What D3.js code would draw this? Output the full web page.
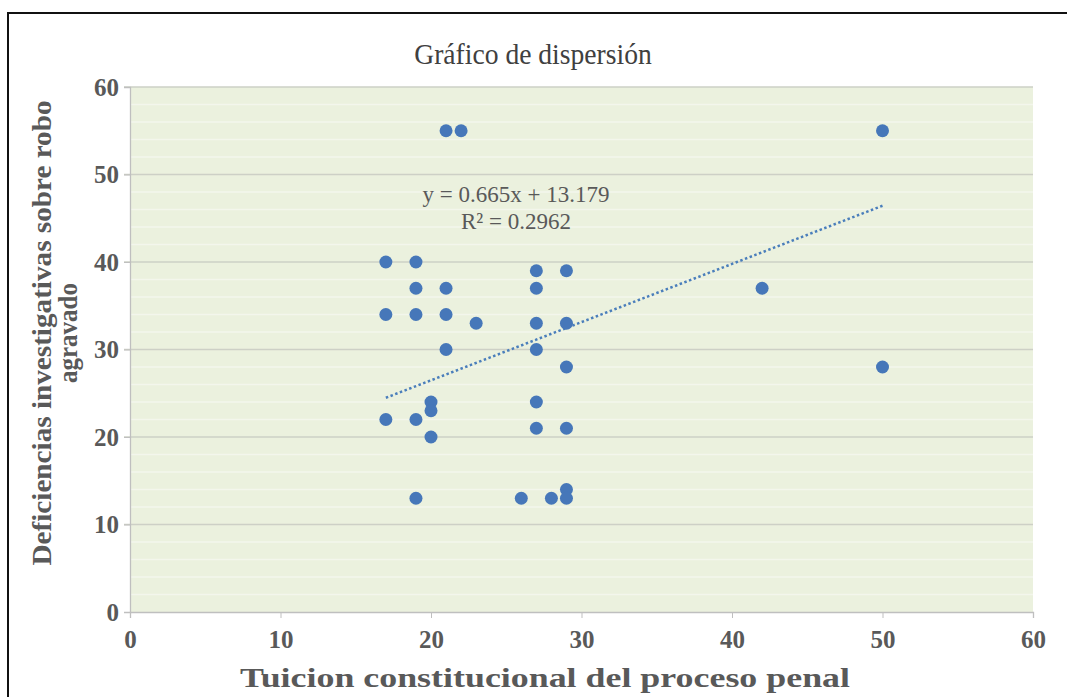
<!DOCTYPE html>
<html>
<head>
<meta charset="utf-8">
<script src="https://cdn.jsdelivr.net/npm/d3@7"></script>
<style>
  body { margin: 0; background: #fff; }
  text { font-family: "Liberation Serif", "DejaVu Serif", serif; }
</style>
</head>
<body>
<script>
// data
var xValues = [17, 17, 17, 19, 19, 19, 19, 19, 20, 20, 20, 21, 21, 21, 21, 22, 23, 26,
               27, 27, 27, 27, 27, 27, 28, 29, 29, 29, 29, 29, 29, 42, 50, 50];
var yValues = [40, 34, 22, 40, 37, 34, 22, 13, 24, 23, 20, 37, 34, 30, 55, 55, 33, 13,
               39, 37, 33, 30, 24, 21, 13, 39, 33, 28, 21, 14, 13, 37, 55, 28];
var xTicks = [0, 10, 20, 30, 40, 50, 60];
var yTicks = [0, 10, 20, 30, 40, 50, 60];
var trendSlope = 0.665,
    trendIntercept = 13.179;
var trendLabels = ["y = 0.665x  + 13.179", "R² = 0.2962"];

var width = 1067,
    height = 697;

var svg = d3.select("body")
    .append("svg")
    .attr("width", width)
    .attr("height", height);

// frame (top and left edges show)
svg.append("path")
    .attr("d", "M8,697 L8,13 L1067,13")
    .attr("fill", "none")
    .attr("stroke", "#111")
    .attr("stroke-width", 2);

var x = d3.scaleLinear().domain([0, 60]).range([130, 1033]);
var y = d3.scaleLinear().domain([0, 60]).range([612, 87]);

// plot area
svg.append("rect")
    .attr("x", x(0))
    .attr("y", y(60))
    .attr("width", x(60) - x(0))
    .attr("height", y(0) - y(60))
    .attr("fill", "#ebf1de");

// minor gridlines
svg.append("g")
    .selectAll("line")
    .data(d3.range(2, 60, 2).filter(function(d) { return d % 10 != 0; }))
    .enter().append("line")
      .attr("x1", x(0))
      .attr("x2", x(60))
      .attr("y1", function(d) { return y(d); })
      .attr("y2", function(d) { return y(d); })
      .attr("stroke", "#f3f6ec")
      .attr("stroke-width", 1.5);

// major gridlines
svg.append("g")
    .selectAll("line")
    .data(yTicks.slice(1))
    .enter().append("line")
      .attr("x1", x(0) - 6)
      .attr("x2", x(60))
      .attr("y1", function(d) { return y(d); })
      .attr("y2", function(d) { return y(d); })
      .attr("stroke", "#cdd0c6")
      .attr("stroke-width", 1.3);

// axes
var yAxis = svg.append("g")
    .attr("transform", "translate(" + x(0) + ",0)")
    .call(d3.axisLeft(y).tickValues(yTicks).tickSize(6).tickPadding(5));
var xAxis = svg.append("g")
    .attr("transform", "translate(0," + y(0) + ")")
    .call(d3.axisBottom(x).tickValues(xTicks).tickSize(6).tickPadding(12));

[xAxis, yAxis].forEach(function(a) {
    a.select(".domain").attr("stroke", "#bfbfbf").attr("stroke-width", 1.3);
    a.selectAll(".tick line").attr("stroke", "#bfbfbf");
    a.selectAll("text")
        .style("font-size", "25px")
        .style("font-weight", "bold")
        .attr("fill", "#595959");
});

// trendline
svg.append("line")
    .attr("x1", x(17))
    .attr("x2", x(50))
    .attr("y1", y(trendSlope * 17 + trendIntercept))
    .attr("y2", y(trendSlope * 50 + trendIntercept))
    .attr("stroke", "#4a7ebb")
    .attr("stroke-width", 2.5)
    .attr("stroke-dasharray", "2.5,2.5");

// points
svg.append("g")
    .selectAll("circle")
    .data(xValues.map(function(d, i) { return [d, yValues[i]]; }))
    .enter().append("circle")
      .attr("cx", function(d) { return x(d[0]); })
      .attr("cy", function(d) { return y(d[1]); })
      .attr("r", 6.5)
      .attr("fill", "#4677b9");

// trend label
svg.append("text")
    .attr("x", 516)
    .attr("y", 202)
    .attr("text-anchor", "middle")
    .style("font-size", "23px")
    .attr("fill", "#595959")
    .text(trendLabels[0]);
svg.append("text")
    .attr("x", 516)
    .attr("y", 229)
    .attr("text-anchor", "middle")
    .style("font-size", "23px")
    .attr("fill", "#595959")
    .text(trendLabels[1]);

// title
svg.append("text")
    .attr("x", 533)
    .attr("y", 64)
    .attr("text-anchor", "middle")
    .style("font-size", "30px")
    .attr("fill", "#404040")
    .attr("transform", "translate(533,0) scale(0.92,1) translate(-533,0)")
    .text("Gráfico de dispersión");

// axis titles
svg.append("text")
    .attr("x", 545)
    .attr("y", 687)
    .attr("text-anchor", "middle")
    .attr("textLength", 610)
    .attr("lengthAdjust", "spacingAndGlyphs")
    .style("font-size", "28px")
    .style("font-weight", "bold")
    .attr("fill", "#595959")
    .text("Tuicion constitucional del proceso penal");

var yt = svg.append("g")
    .attr("transform", "translate(0,333) rotate(-90)");
yt.append("text")
    .attr("x", 0)
    .attr("y", 51)
    .attr("text-anchor", "middle")
    .attr("textLength", 465)
    .attr("lengthAdjust", "spacingAndGlyphs")
    .style("font-size", "27px")
    .style("font-weight", "bold")
    .attr("fill", "#595959")
    .text("Deficiencias investigativas sobre robo");
yt.append("text")
    .attr("x", 0)
    .attr("y", 77)
    .attr("text-anchor", "middle")
    .attr("textLength", 100)
    .attr("lengthAdjust", "spacingAndGlyphs")
    .style("font-size", "27px")
    .style("font-weight", "bold")
    .attr("fill", "#595959")
    .text("agravado");
</script>
</body>
</html>
